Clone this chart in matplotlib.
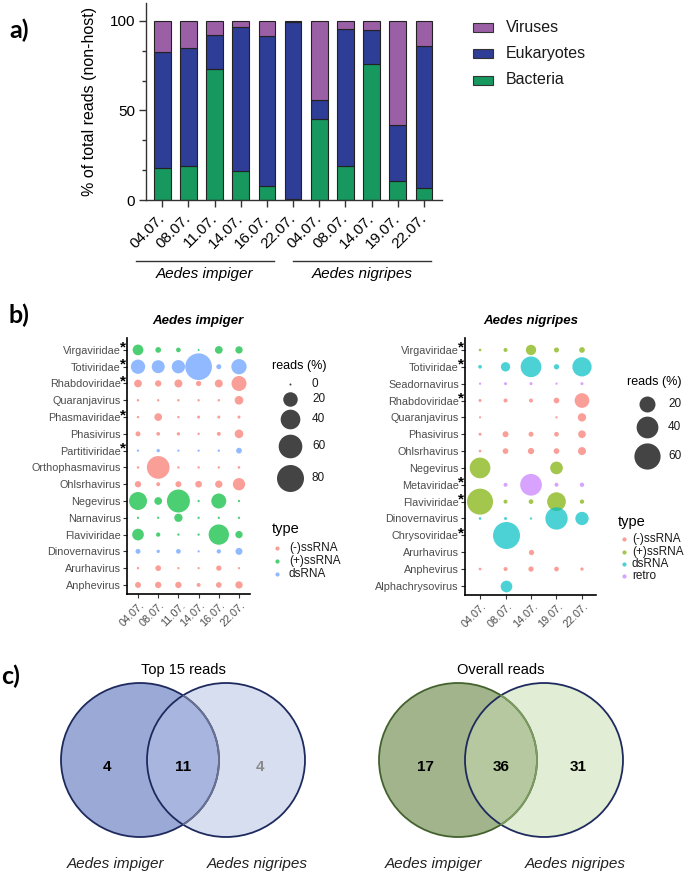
import numpy as np
import matplotlib.pyplot as plt
from matplotlib.patches import Ellipse, Rectangle
from matplotlib.transforms import ScaledTranslation

plt.rcParams['font.family'] = ['Liberation Sans', 'DejaVu Sans']

# ---------------- data: panel a ----------------
bar_dates = ['04.07.', '08.07.', '11.07.', '14.07.', '16.07.', '22.07.',
             '04.07.', '08.07.', '14.07.', '19.07.', '22.07.']
bacteria = [17.7, 19.0, 73.4, 16.0, 7.6, 0.4, 45.5, 19.0, 76.2, 10.4, 6.9]
eukaryotes = [65.0, 66.1, 18.6, 80.7, 83.7, 99.0, 10.3, 76.7, 19.0, 31.2, 79.3]
viruses = [17.3, 14.9, 8.0, 3.3, 8.7, 0.6, 44.2, 4.3, 4.8, 58.4, 13.8]
groups = ['Aedes impiger', 'Aedes nigripes']

# ---------------- data: panel b ----------------
imp_dates = ['04.07.', '08.07.', '11.07.', '14.07.', '16.07.', '22.07.']
imp_taxa = ['Virgaviridae', 'Totiviridae', 'Rhabdoviridae', 'Quaranjavirus', 'Phasmaviridae',
            'Phasivirus', 'Partitiviridae', 'Orthophasmavirus', 'Ohlsrhavirus', 'Negevirus',
            'Narnavirus', 'Flaviviridae', 'Dinovernavirus', 'Arurhavirus', 'Anphevirus']
imp_star = ['Virgaviridae', 'Totiviridae', 'Rhabdoviridae', 'Phasmaviridae', 'Partitiviridae']
imp_type = ['(+)ssRNA', 'dsRNA', '(-)ssRNA', '(-)ssRNA', '(-)ssRNA',
            '(-)ssRNA', 'dsRNA', '(-)ssRNA', '(-)ssRNA', '(+)ssRNA',
            '(+)ssRNA', '(+)ssRNA', 'dsRNA', '(-)ssRNA', '(-)ssRNA']
imp_reads = [
    [9.7, 1.75, 0.9, 0.0, 4.2, 3.6],
    [19.4, 15.5, 16.3, 78.0, 1.15, 22.6],
    [4.2, 2.4, 4.6, 1.4, 4.6, 21.6],
    [0.03, 0.02, 0.03, 0.02, 0.03, 5.7],
    [0.03, 4.2, 0.02, 0.13, 0.13, 0.13],
    [1.15, 0.37, 0.22, 0.02, 0.5, 5.7],
    [0.01, 0.22, 0.01, 0.01, 0.02, 1.75],
    [0.03, 54.8, 0.02, 0.02, 0.02, 0.05],
    [2.4, 0.5, 2.0, 2.8, 3.6, 13.6],
    [32.8, 4.2, 56.4, 0.01, 21.6, 0.01],
    [0.01, 0.01, 5.1, 0.01, 0.01, 0.01],
    [12.0, 0.68, 0.01, 0.01, 42.9, 3.6],
    [1.15, 0.22, 0.93, 0.01, 0.68, 3.2],
    [0.02, 1.75, 0.01, 0.01, 1.4, 0.01],
    [2.0, 2.4, 2.4, 0.5, 1.75, 3.6],
]

nig_dates = ['04.07.', '08.07.', '14.07.', '19.07.', '22.07.']
nig_taxa = ['Virgaviridae', 'Totiviridae', 'Seadornavirus', 'Rhabdoviridae', 'Quaranjavirus',
            'Phasivirus', 'Ohlsrhavirus', 'Negevirus', 'Metaviridae', 'Flaviviridae',
            'Dinovernavirus', 'Chrysoviridae', 'Arurhavirus', 'Anphevirus', 'Alphachrysovirus']
nig_star = ['Virgaviridae', 'Totiviridae', 'Rhabdoviridae', 'Metaviridae', 'Flaviviridae',
            'Chrysoviridae']
nig_type = ['(+)ssRNA', 'dsRNA', 'retro', '(-)ssRNA', '(-)ssRNA',
            '(-)ssRNA', '(-)ssRNA', '(+)ssRNA', 'retro', '(+)ssRNA',
            'dsRNA', 'dsRNA', '(-)ssRNA', '(-)ssRNA', 'dsRNA']
nan = np.nan
nig_reads = [
    [0.05, 0.41, 7.1, 0.92, 1.4],
    [0.3, 5.5, 35.8, 1.1, 30.6],
    [0.01, 0.1, 0.1, 0.01, 0.1],
    [0.1, 0.41, 0.41, 1.4, 16.5],
    [0.005, nan, nan, 0.01, 4.1],
    [0.1, 1.64, 0.92, 0.75, 3.3],
    [0.05, 1.4, 1.9, 1.4, 3.7],
    [35.8, nan, nan, 11.7, nan],
    [nan, 0.41, 39.7, 0.41, 0.54],
    [59.0, 0.41, 0.75, 28.6, 0.54],
    [0.05, 0.1, 0.01, 42.2, 13.1],
    [nan, 64.0, nan, nan, nan],
    [nan, nan, 1.1, nan, nan],
    [0.05, 0.41, 1.1, 0.75, 0.17],
    [nan, 9.6, nan, nan, nan],
]

imp_colors = {'(-)ssRNA': '#F8766D', '(+)ssRNA': '#00BA38', 'dsRNA': '#619CFF'}
nig_colors = {'(-)ssRNA': '#F8766D', '(+)ssRNA': '#7CAE00', 'dsRNA': '#00BFC4', 'retro': '#C77CFF'}
imp_legend = [0, 20, 40, 60, 80]
nig_legend = [20, 40, 60]

# ---------------- data: panel c ----------------
venn_titles = ['Top 15 reads', 'Overall reads']
top15_counts = [4, 11, 4]
overall_counts = [17, 36, 31]

W, H = 685, 874
fig = plt.figure(figsize=(W / 100, H / 100), dpi=100)


def fr(x0, y0, x1, y1):
    return [x0 / W, 1 - y1 / H, (x1 - x0) / W, (y1 - y0) / H]


# ================= panel a =================
ax = fig.add_axes(fr(146, 3, 442, 200))
x = np.arange(len(bar_dates))
bac = np.array(bacteria)
euk = np.array(eukaryotes)
vir = np.array(viruses)
kw = dict(width=0.64, edgecolor='#222222', linewidth=0.8)
ax.bar(x, bac, color='#16985F', **kw)
ax.bar(x, euk, bottom=bac, color='#2E3D96', **kw)
ax.bar(x, vir, bottom=bac + euk, color='#9B5FA6', **kw)
ax.set_xlim(-0.62, 10.69)
ax.set_ylim(0, 110)
for s in ['top', 'right']:
    ax.spines[s].set_visible(False)
for s in ['left', 'bottom']:
    ax.spines[s].set_linewidth(1.0)
    ax.spines[s].set_color('#333333')
ax.set_yticks([0, 50, 100])
ax.set_yticks([50 / 3, 100 / 3, 200 / 3, 250 / 3], minor=True)
ax.tick_params(axis='y', which='major', length=5, width=1, color='#333333', labelsize=11, pad=3)
ax.tick_params(axis='y', which='minor', length=3, width=1, color='#333333')
ax.set_xticks(x)
ax.set_xticklabels(bar_dates, rotation=45, ha='right', va='center', rotation_mode='anchor')
ax.tick_params(axis='x', length=5, width=1, color='#333333', labelsize=11, pad=7)
ax.set_ylabel('% of total reads (non-host)', fontsize=11.5)
ax.yaxis.set_label_coords(-0.165, 0.5)

# ================= panel b =================


def diam(v, vmax):
    return 2 + 25 * np.sqrt(np.asarray(v, dtype=float) / vmax)


def sz(v, vmax):
    return (diam(v, vmax) * 0.72) ** 2


def bubble(box, dates, taxa, types, reads, colors, stars, xlim, vmax):
    bx = fig.add_axes(box)
    n = len(taxa)
    for i, t in enumerate(taxa):
        row = np.array(reads[i], dtype=float)
        cols = np.arange(len(dates))
        ok = ~np.isnan(row)
        bx.scatter(cols[ok], np.full(ok.sum(), n - 1 - i), s=sz(row[ok], vmax),
                   color=colors[types[i]], alpha=0.7, linewidths=0, zorder=3)
        if t in stars:
            bx.annotate('*', xy=(0, n - 1 - i), xycoords=('axes fraction', 'data'),
                        xytext=(-2.6, 1.5), textcoords='offset points', ha='center',
                        va='center', fontsize=11, fontweight='bold', color='black')
    bx.set_xlim(*xlim)
    bx.set_ylim(-0.54, n - 1 + 0.71)
    bx.set_yticks(np.arange(n))
    bx.set_yticklabels(taxa[::-1])
    bx.set_xticks(np.arange(len(dates)))
    bx.set_xticklabels(dates, rotation=45, ha='right', va='center', rotation_mode='anchor')
    for s in ['top', 'right']:
        bx.spines[s].set_visible(False)
    for s in ['left', 'bottom']:
        bx.spines[s].set_linewidth(1.2)
        bx.spines[s].set_color('black')
    bx.tick_params(length=3, width=0.8, color='#333333', labelsize=7.8,
                   labelcolor='#4D4D4D', pad=1.5)
    bx.tick_params(axis='x', pad=4)
    off = ScaledTranslation(5 / 100, 0, fig.dpi_scale_trans)
    for lab in bx.get_xticklabels():
        lab.set_transform(lab.get_transform() + off)
    return bx


bubble(fr(127, 338, 250, 594), imp_dates, imp_taxa, imp_type, imp_reads, imp_colors,
       imp_star, (-0.545, 5.545), 80)
bubble(fr(465, 338, 596, 595), nig_dates, nig_taxa, nig_type, nig_reads, nig_colors,
       nig_star, (-0.59, 4.55), 64)

# ================= overlay (pixel coordinates) =================
ov = fig.add_axes([0, 0, 1, 1], zorder=10)
ov.set_xlim(0, W)
ov.set_ylim(H, 0)
ov.axis('off')

# panel labels
for lab, (lx, ly) in zip(['a)', 'b)', 'c)'], [(9, 30), (9, 315), (1, 676)]):
    ov.text(lx, ly, lab, fontsize=18, fontweight='bold', ha='left', va='center',
            family=['Lato', 'DejaVu Sans'])

# group lines under panel a
for g, (x0, x1) in zip(groups, [(136, 274), (293, 431)]):
    ov.plot([x0, x1], [261, 261], color='#333333', lw=1)
    ov.text((x0 + x1) / 2, 274, g, fontsize=11, style='italic', ha='center', va='center')

# legend panel a
for lab, col, yy in zip(['Viruses', 'Eukaryotes', 'Bacteria'],
                        ['#9B5FA6', '#2E3D96', '#16985F'], [27, 53.5, 80]):
    ov.add_patch(Rectangle((473, yy - 4.5), 20, 9, facecolor=col, edgecolor='#333333', lw=0.8))
    ov.text(506, yy, lab, fontsize=11.5, ha='left', va='center', color='#1a1a1a')

# panel b titles
ov.text(198, 321, 'Aedes impiger', fontsize=9.5, fontweight='bold', style='italic',
        ha='center', va='center')
ov.text(531, 321, 'Aedes nigripes', fontsize=9.5, fontweight='bold', style='italic',
        ha='center', va='center')

# size legends
ov.text(272, 366, 'reads (%)', fontsize=9, ha='left', va='center')
for v, yy in zip(imp_legend, [384, 399, 419, 446, 478]):
    ov.scatter([290], [yy], s=sz(v, 80), color='#444444', linewidths=0)
    ov.text(312, yy, str(v), fontsize=8.5, ha='left', va='center', color='#1a1a1a')
ov.text(627, 382, 'reads (%)', fontsize=9, ha='left', va='center')
for v, yy in zip(nig_legend, [404, 427, 456]):
    ov.scatter([647], [yy], s=sz(v, 64), color='#444444', linewidths=0)
    ov.text(668, yy, str(v), fontsize=8.5, ha='left', va='center', color='#1a1a1a')

# type legends
ov.text(272, 529, 'type', fontsize=10.5, ha='left', va='center')
for (k, c), yy in zip(imp_colors.items(), [548, 561, 574]):
    ov.scatter([277], [yy], s=9, color=c, alpha=0.7, linewidths=0)
    ov.text(289, yy, k, fontsize=8.5, ha='left', va='center', color='#1a1a1a')
ov.text(618, 522, 'type', fontsize=10.5, ha='left', va='center')
for (k, c), yy in zip(nig_colors.items(), [539, 551.5, 564, 576]):
    ov.scatter([624], [yy], s=9, color=c, alpha=0.7, linewidths=0)
    ov.text(632, yy, k, fontsize=8.5, ha='left', va='center', color='#1a1a1a')

# ================= panel c: Venn =================


def venn(cx1, cx2, cy, fills, edges, inner_edge, counts, count_cols, title):
    w, h = 158, 154
    a = Ellipse((cx1, cy), w, h, facecolor=fills[0], edgecolor='none')
    b = Ellipse((cx2, cy), w, h, facecolor=fills[1], edgecolor='none')
    ov.add_patch(a)
    ov.add_patch(b)
    ab = Ellipse((cx1, cy), w, h, facecolor=fills[2], edgecolor='none')
    ov.add_patch(ab)
    ab.set_clip_path(b)
    ov.add_patch(Ellipse((cx2, cy), w, h, facecolor='none', edgecolor=edges[1], lw=1.3))
    ov.add_patch(Ellipse((cx1, cy), w, h, facecolor='none', edgecolor=edges[0], lw=1.3))
    ie = Ellipse((cx1, cy), w, h, facecolor='none', edgecolor=inner_edge, lw=1.3)
    ov.add_patch(ie)
    ie.set_clip_path(b)
    mid = (cx1 + cx2) / 2
    for val, xx, col in zip(counts, [cx1 - 33, mid, cx2 + 34], count_cols):
        ov.text(xx, cy + 7, str(val), fontsize=11, fontweight='bold', ha='center',
                va='center', color=col)
    ov.text(mid, 670, title, fontsize=10.5, ha='center', va='center')
    ov.text(cx1 - 24, 864, groups[0], fontsize=11, style='italic', ha='center',
            va='center', color='#222222')
    ov.text(cx2 + 31, 864, groups[1], fontsize=11, style='italic', ha='center',
            va='center', color='#222222')


venn(140, 226, 760, ['#9BA9D6', '#D6DEF0', '#A8B6DF'], ['#1E2A5E', '#1E2A5E'], '#6B7393',
     top15_counts, ['black', 'black', '#8A8A8A'], venn_titles[0])
venn(458, 544, 760, ['#A1B48B', '#E2EDD6', '#B6C89F'], ['#43622E', '#1E2A5E'], '#7C9A62',
     overall_counts, ['black', 'black', 'black'], venn_titles[1])

fig.savefig('out.png', dpi=100)
